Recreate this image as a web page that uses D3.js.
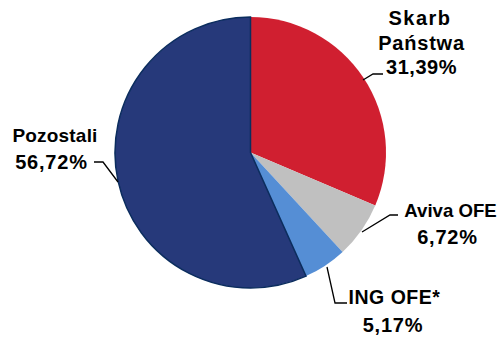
<!DOCTYPE html>
<html><head><meta charset="utf-8">
<script src="https://cdn.jsdelivr.net/npm/d3@7"></script>
<style>html,body{margin:0;padding:0;background:#fff;}svg{display:block;}</style>
</head><body>
<script>
const categories = ["Skarb Państwa", "Aviva OFE", "ING OFE*", "Pozostali"];
const values = [31.39, 6.72, 5.17, 56.72];
const labelLines = [["Skarb", "Państwa", "31,39%"], ["Aviva OFE", "6,72%"], ["ING OFE*", "5,17%"], ["Pozostali", "56,72%"]];
const colors = ["#d01f30", "#c0c0c0", "#558ed5", "#26397a"];

const W = 499, H = 337;
const cx = 250.5, cy = 152.5, R = 135.5;
const svg = d3.select("body").append("svg").attr("width", W).attr("height", H);
const g = svg.append("g").attr("transform", `translate(${cx},${cy})`);

const pie = d3.pie().sort(null).value(d => d)(values);
const arc = d3.arc().innerRadius(0).outerRadius(R);
g.selectAll("path").data(pie).join("path")
  .attr("d", arc)
  .attr("fill", (d, i) => colors[i])
  .attr("stroke", (d, i) => i === 3 ? "#0b2d5e" : "none")
  .attr("stroke-width", 1.5);

// label text layout
const labels = [
  {x: [420, 421.5, 421.5], y: [25, 50, 74], fs: [20, 20, 20], ls: [1.5, 0.8, 0.5]},
  {x: [450.5, 447.5], y: [217, 244], fs: [18.6, 20], ls: [0, 0.8]},
  {x: [394.5, 393], y: [304, 332], fs: [19.5, 20], ls: [0.5, 0.8]},
  {x: [55, 51.5], y: [142, 169], fs: [19, 20], ls: [0.2, 0.8]}
];
const leaders = [
  [[363, 80], [373, 74], [383, 74]],
  [[362, 232], [390, 215], [398, 215]],
  [[327, 267], [335, 303], [347, 303]],
  [[118, 182], [103, 162], [94, 162]]
];
const line = d3.line();
svg.selectAll("path.leader").data(leaders).join("path")
  .attr("class", "leader")
  .attr("d", d => line(d))
  .attr("fill", "none").attr("stroke", "#000").attr("stroke-width", 1.3);

labels.forEach((L, i) => {
  labelLines[i].forEach((t, j) => {
    svg.append("text")
      .attr("x", L.x[j]).attr("y", L.y[j])
      .attr("text-anchor", "middle")
      .attr("font-family", "'Liberation Sans', Arial, sans-serif")
      .attr("font-weight", "bold")
      .attr("font-size", L.fs[j])
      .attr("letter-spacing", L.ls[j])
      .attr("fill", "#000")
      .text(t);
  });
});
</script>
</body></html>
